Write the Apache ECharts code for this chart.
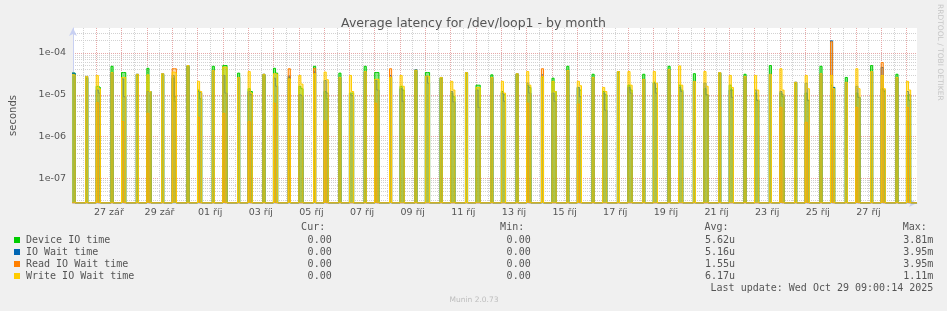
<!DOCTYPE html>
<html>
<head>
<meta charset="utf-8">
<script src="https://cdn.jsdelivr.net/npm/echarts@6/dist/echarts.min.js"></script>
<style>
html, body { margin: 0; padding: 0; background: #f0f0f0; }
#main { width: 947px; height: 311px; }
</style>
</head>
<body>
<div id="main"></div>
<script>
// days shown in the month graph (MM-DD, 2025)
var days = ['09-26', '09-27', '09-28', '09-29', '09-30', '10-01', '10-02', '10-03', '10-04', '10-05',
  '10-06', '10-07', '10-08', '10-09', '10-10', '10-11', '10-12', '10-13', '10-14', '10-15',
  '10-16', '10-17', '10-18', '10-19', '10-20', '10-21', '10-22', '10-23', '10-24', '10-25',
  '10-26', '10-27', '10-28', '10-29'];

// burst after midnight: values of the 00:00 and 02:00 samples (seconds)
var nightDevice = [[3.3e-5, 3.3e-5], [1.6e-5, 1.5e-5], [3.4e-5, 3.4e-5], [4.3e-5, 1.2e-5], [2.5e-5, 7e-6],
  [1.3e-5, 8e-6], [5.0e-5, 5.0e-5], [1.4e-5, 1.2e-5], [4.3e-5, 3.3e-5], [1.6e-5, 1.4e-5],
  [1.2e-5, 8e-6], [1.1e-5, 1.1e-5], [3.4e-5, 3.4e-5], [1.6e-5, 1.3e-5], [3.4e-5, 3.4e-5],
  [1.1e-5, 9e-6], [1.7e-5, 1.7e-5], [1.2e-5, 1.0e-5], [1.7e-5, 1.5e-5], [2.5e-5, 1.2e-5],
  [1.5e-5, 1.3e-5], [1.2e-5, 1.0e-5], [1.7e-5, 1.3e-5], [2.0e-5, 1.4e-5], [1.7e-5, 1.3e-5],
  [1.4e-5, 1.0e-5], [1.7e-5, 1.3e-5], [1.1e-5, 7.4e-6], [1.1e-5, 9e-6], [1.1e-5, 7.4e-6],
  [1.7e-5, 1.5e-5], [1.1e-5, 8.7e-6], [1.4e-5, 1.2e-5], [9.7e-6, 7.4e-6]];
var nightIoWait = [[3.3e-5, 3.3e-5], [1.3e-5, 1.1e-5], [2.4e-5, 9e-6], [1.2e-5, 1.2e-5], [2.9e-5, 9e-6],
  [1.2e-5, 1.1e-5], [2.9e-5, 1.1e-5], [1.2e-5, 1.0e-5], [2.5e-5, 1.6e-5], [1.0e-5, 9e-6],
  [2.2e-5, 1.1e-5], [1.0e-5, 9e-6], [2.2e-5, 1.3e-5], [1.4e-5, 7e-6], [2.8e-5, 1.9e-5],
  [1.2e-5, 6.8e-6], [1.3e-5, 5e-6], [1.1e-5, 7e-6], [1.9e-5, 1.1e-5], [1.1e-5, 7e-6],
  [1.5e-5, 9e-6], [1.1e-5, 4.3e-6], [1.5e-5, 1.1e-5], [1.9e-5, 1.1e-5], [1.5e-5, 1.2e-5],
  [1.9e-5, 1.0e-5], [1.3e-5, 8.7e-6], [1.3e-5, 7.4e-6], [1.2e-5, 1.0e-5], [1.9e-5, 7.4e-6],
  [1.95e-4, 1.5e-5], [1.6e-5, 8.7e-6], [4.5e-5, 1.3e-5], [1.2e-5, 1.0e-5]];
var nightRead = [[0, 0], [6.5e-6, 0], [2.3e-6, 0], [3.6e-6, 0], [4.2e-5, 4.2e-5],
  [2.9e-6, 0], [3.6e-6, 0], [2.3e-6, 0], [6.3e-6, 0], [0, 0],
  [2.4e-6, 0], [0, 0], [6.3e-6, 0], [0, 0], [0, 0],
  [0, 0], [0, 0], [0, 0], [6.3e-6, 0], [0, 0],
  [6e-6, 0], [0, 0], [0, 0], [0, 0], [0, 0],
  [0, 0], [0, 0], [0, 0], [5e-6, 0], [2.2e-6, 0],
  [1.85e-4, 0], [5e-6, 0], [5.9e-5, 0], [5e-6, 0]];
var nightWrite = [[3.0e-5, 3.0e-5], [2.9e-5, 1.4e-5], [2.6e-5, 2.6e-5], [3.0e-5, 1.2e-5], [3.5e-5, 3.3e-5],
  [2.1e-5, 1.2e-5], [4.6e-5, 4.6e-5], [3.6e-5, 1.1e-5], [3.2e-5, 3.1e-5], [2.9e-5, 1.8e-5],
  [3.5e-5, 2.3e-5], [2.9e-5, 1.2e-5], [2.35e-5, 2.35e-5], [2.9e-5, 1.6e-5], [2.8e-5, 2.8e-5],
  [2.1e-5, 1.3e-5], [1.5e-5, 1.5e-5], [2.1e-5, 1.1e-5], [3.6e-5, 1.7e-5], [2.1e-5, 1.2e-5],
  [2.1e-5, 1.65e-5], [1.5e-5, 1.2e-5], [3.6e-5, 1.7e-5], [3.6e-5, 1.9e-5], [4.9e-5, 1.7e-5],
  [3.6e-5, 1.6e-5], [2.9e-5, 1.5e-5], [2.9e-5, 1.3e-5], [4.2e-5, 1.3e-5], [2.9e-5, 1.4e-5],
  [2.9e-5, 1.4e-5], [4.2e-5, 1.4e-5], [2.9e-5, 1.4e-5], [2.1e-5, 1.3e-5]];

// afternoon burst: the 14:00 sample, 09-26 .. 10-28
var dayDevice = [2.5e-5, 4.8e-5, 3.0e-5, 3.0e-5, 4.8e-5, 4.8e-5, 3.3e-5, 3.0e-5, 2.6e-5, 4.8e-5,
  3.3e-5, 4.8e-5, 2.6e-5, 3.8e-5, 2.5e-5, 3.3e-5, 3.0e-5, 3.1e-5, 2.6e-5, 4.8e-5,
  3.1e-5, 3.5e-5, 3.1e-5, 4.8e-5, 3.2e-5, 3.3e-5, 3.1e-5, 5.0e-5, 1.9e-5, 4.8e-5,
  2.6e-5, 5.0e-5, 3.1e-5];
var dayIoWait = [2.75e-5, 3.4e-5, 3.1e-5, 3.2e-5, 5.0e-5, 3.8e-5, 2.6e-5, 3.1e-5, 2.8e-5, 3.5e-5,
  2.6e-5, 3.6e-5, 2.9e-5, 4.0e-5, 2.6e-5, 3.4e-5, 2.6e-5, 3.2e-5, 3.0e-5, 3.8e-5,
  2.6e-5, 3.6e-5, 2.35e-5, 4.0e-5, 2.1e-5, 3.4e-5, 2.75e-5, 3.1e-5, 2.0e-5, 3.2e-5,
  2.0e-5, 3.6e-5, 2.6e-5];
var dayRead = [0, 0, 0, 0, 0, 0, 0, 0, 4.2e-5, 4.3e-5,
  0, 0, 4.2e-5, 0, 0, 0, 0, 0, 4.2e-5, 0,
  0, 0, 0, 0, 0, 0, 0, 0, 0, 0,
  0, 0, 0];
var dayWrite = [2.75e-5, 3.4e-5, 3.1e-5, 3.2e-5, 5.0e-5, 3.8e-5, 2.6e-5, 3.1e-5, 2.4e-5, 3.2e-5,
  2.6e-5, 3.6e-5, 2.6e-5, 3.9e-5, 2.6e-5, 3.4e-5, 2.6e-5, 3.2e-5, 2.7e-5, 3.8e-5,
  2.6e-5, 3.6e-5, 2.35e-5, 4.0e-5, 2.1e-5, 3.4e-5, 2.75e-5, 3.1e-5, 2.0e-5, 3.2e-5,
  2.0e-5, 3.6e-5, 2.6e-5];

var seriesNames = ['Device IO time', 'IO Wait time', 'Read IO Wait time', 'Write IO Wait time'];
var seriesColors = ['#00cc00', '#0066b3', '#ff8000', '#ffcc00'];
var areaOpacity = [0.45, 0.35, 0.3, 0.5];
var curValues = ['0.00', '0.00', '0.00', '0.00'];
var minValues = ['0.00', '0.00', '0.00', '0.00'];
var avgValues = ['5.62u', '5.16u', '1.55u', '6.17u'];
var maxValues = ['3.81m', '3.95m', '3.95m', '1.11m'];

var yLabels = [1e-7, 1e-6, 1e-5, 1e-4];
var yMin = 2.6e-8, yMax = 3.95e-4;
var czMonths = ['led', 'úno', 'bře', 'dub', 'kvě', 'čvn', 'čvc', 'srp', 'zář', 'říj', 'lis', 'pro'];

function ts(day, hour) {
  var p = day.split('-');
  return new Date(2025, +p[0] - 1, +p[1], hour).getTime();
}
var tStart = ts('09-26', 2);
var tEnd = ts('10-29', 10);

function buildSeries(night, afternoon) {
  var pts = [];
  for (var i = 0; i < days.length; i++) {
    pts.push([ts(days[i], 0), night[i][0]]);
    pts.push([ts(days[i], 2), night[i][1]]);
    pts.push([ts(days[i], 4), 0]);
    if (i < afternoon.length) {
      pts.push([ts(days[i], 14), afternoon[i]]);
      pts.push([ts(days[i], 16), 0]);
    }
  }
  pts.push([tEnd, 0]);
  // zero cannot sit on a log axis: clamp it to the floor like rrdtool does
  return pts.map(function (p) { return [p[0], p[1] > 0 ? p[1] : yMin]; });
}

var allData = [
  buildSeries(nightDevice, dayDevice),
  buildSeries(nightIoWait, dayIoWait),
  buildSeries(nightRead, dayRead),
  buildSeries(nightWrite, dayWrite)
];

// grid lines: every 12 h on x, 1..9 x 10^n on y
var xGrid = [];
for (var t = ts('09-26', 12); t <= tEnd; t += 12 * 3600 * 1000) xGrid.push(t);
var xLabels = [];
for (var k = 1; k < days.length; k += 2) xLabels.push(ts(days[k], 12));
var yGrid = [];
[1e-8, 1e-7, 1e-6, 1e-5, 1e-4].forEach(function (d) {
  for (var m = 1; m <= 9; m++) {
    var v = +(d * m).toPrecision(3);
    if (v > yMin && v < yMax) yGrid.push(v);
  }
});

var gray = '#d2d2d2', red = '#e6a8a8';
var axisBlue = '#c8d0f2';

var myChart = echarts.init(document.getElementById('main'), null, { renderer: 'canvas' });

var series = allData.map(function (d, i) {
  return {
    name: seriesNames[i],
    type: 'line',
    step: 'end',
    data: d,
    symbol: 'none',
    sampling: 'none',
    lineStyle: { width: 1, color: seriesColors[i] },
    areaStyle: { origin: 'start', color: seriesColors[i], opacity: areaOpacity[i] },
    itemStyle: { color: seriesColors[i] },
    z: 2 + i
  };
});

var legendGraphics = [];
var colX = [331.7, 530.7, 735, 933.3];
['Cur:', 'Min:', 'Avg:', 'Max:'].forEach(function (h, j) {
  legendGraphics.push({
    type: 'text', x: colX[j] - 6.5, y: 227,
    style: { text: h, align: 'right', verticalAlign: 'middle', fill: '#555', font: '10px "DejaVu Sans Mono"' }
  });
});
seriesNames.forEach(function (n, i) {
  var y = 240 + i * 12;
  legendGraphics.push({ type: 'rect', shape: { x: 14, y: y - 3, width: 6, height: 6 }, style: { fill: seriesColors[i] } });
  legendGraphics.push({ type: 'text', x: 26, y: y, style: { text: n, verticalAlign: 'middle', fill: '#555', font: '10px "DejaVu Sans Mono"' } });
  [curValues, minValues, avgValues, maxValues].forEach(function (col, j) {
    legendGraphics.push({ type: 'text', x: colX[j], y: y, style: { text: col[i], align: 'right', verticalAlign: 'middle', fill: '#555', font: '10px "DejaVu Sans Mono"' } });
  });
});
legendGraphics.push({ type: 'text', x: 933.3, y: 288, style: { text: 'Last update: Wed Oct 29 09:00:14 2025', align: 'right', verticalAlign: 'middle', fill: '#555', font: '10px "DejaVu Sans Mono"' } });
legendGraphics.push({ type: 'text', x: 474, y: 300, style: { text: 'Munin 2.0.73', align: 'center', verticalAlign: 'middle', fill: '#bdbdbd', font: '7.5px "DejaVu Sans"' } });
legendGraphics.push({ type: 'text', x: 940, y: 4, rotation: -Math.PI / 2, style: { text: 'RRDTOOL / TOBI OETIKER', align: 'left', verticalAlign: 'middle', fill: '#c6c6c6', font: '7.5px "DejaVu Sans"' } });

var option = {
  backgroundColor: '#f0f0f0',
  animation: false,
  title: {
    text: 'Average latency for /dev/loop1 - by month',
    left: 'center', top: 12,
    textStyle: { fontFamily: 'DejaVu Sans', fontSize: 12.5, fontWeight: 'normal', color: '#555' }
  },
  grid: { left: 67, right: 30, top: 28, bottom: 108, show: true, backgroundColor: '#ffffff', borderWidth: 0 },
  xAxis: {
    type: 'value', min: tStart, max: tEnd,
    axisLine: { show: true, lineStyle: { color: axisBlue }, symbol: ['none', 'arrow'], symbolSize: [6, 8] },
    axisTick: { show: false, customValues: xGrid },
    axisLabel: {
      customValues: xLabels, margin: 5, color: '#555', fontFamily: 'DejaVu Sans', fontSize: 9.5,
      formatter: function (v) {
        var d = new Date(v);
        var dd = d.getDate();
        return (dd < 10 ? '0' : '') + dd + ' ' + czMonths[d.getMonth()];
      }
    },
    splitLine: { show: true, lineStyle: { color: [gray, red], type: [1, 1], width: 1 } }
  },
  yAxis: {
    type: 'log', logBase: 10, min: yMin, max: yMax,
    name: 'seconds', nameLocation: 'middle', nameGap: 55,
    nameTextStyle: { fontFamily: 'DejaVu Sans', fontSize: 10, color: '#555' },
    axisLine: { show: true, lineStyle: { color: axisBlue }, symbol: ['none', 'arrow'], symbolSize: [6, 8] },
    axisTick: { show: false, customValues: yGrid },
    axisLabel: {
      customValues: yLabels, margin: 7, color: '#555', fontFamily: 'DejaVu Sans', fontSize: 9.5,
      formatter: function (v) {
        return v.toExponential(0).replace(/e([+-])(\d)$/, 'e$10$2');
      }
    },
    splitLine: { show: true, lineStyle: { color: [gray, gray, gray, gray, gray, gray, gray, red, gray], type: [1, 1], width: 1 } }
  },
  series: series,
  graphic: legendGraphics
};

myChart.setOption(option);
</script>
</body>
</html>
